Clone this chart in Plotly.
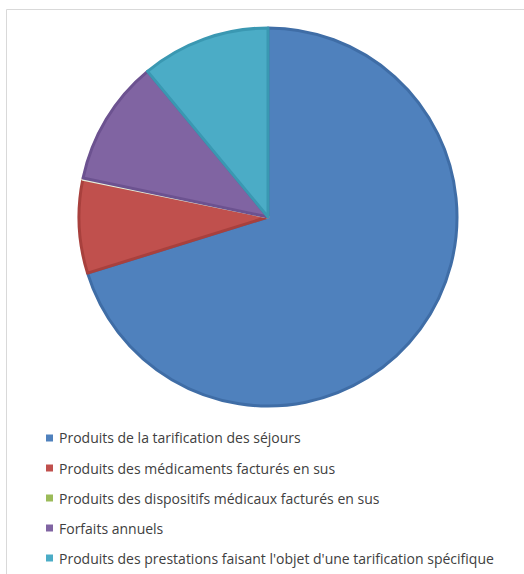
import plotly.graph_objects as go

labels = [
    "Produits de la tarification des séjours",
    "Produits des médicaments facturés en sus",
    "Produits des dispositifs médicaux facturés en sus",
    "Forfaits annuels",
    "Produits des prestations faisant l'objet d'une tarification spécifique",
]
values = [70.2, 8.0, 0.1, 10.7, 11.0]
colors = ["#4F81BD", "#C0504D", "#9BBB59", "#8064A2", "#4BACC6"]
line_colors = ["#3F6DA6", "#A8403D", "#E8F0DC", "#6C5290", "#3A98B2"]

W, H = 524, 574

fig = go.Figure()
fig.add_trace(go.Pie(
    labels=labels,
    values=values,
    sort=False,
    direction="clockwise",
    rotation=0,
    textinfo="none",
    hoverinfo="label+percent",
    showlegend=False,
    marker=dict(colors=colors, line=dict(color=line_colors, width=3)),
    domain=dict(x=[(268 - 189) / W, (268 + 189) / W],
                y=[(H - 217 - 189) / H, (H - 217 + 189) / H]),
))

shapes = [dict(type="rect", xref="paper", yref="paper",
               x0=6.5 / W, x1=1.05, y0=-0.05, y1=1 - 9.5 / H,
               line=dict(color="#D9D9D9", width=1), fillcolor="rgba(0,0,0,0)", layer="below")]
annotations = []
for i, (lab, col) in enumerate(zip(labels, colors)):
    yc = 438 + 30 * i
    shapes.append(dict(type="rect", xref="paper", yref="paper",
                       x0=46 / W, x1=53 / W, y0=1 - (yc + 3.5) / H, y1=1 - (yc - 3.5) / H,
                       line=dict(width=0), fillcolor=col))
    annotations.append(dict(text=lab, xref="paper", yref="paper",
                            x=57 / W, y=1 - yc / H, xanchor="left", yanchor="middle",
                            showarrow=False,
                            font=dict(family="Open Sans", size=14, color="#404040")))

fig.update_layout(
    width=W, height=H,
    margin=dict(l=0, r=0, t=0, b=0),
    paper_bgcolor="white",
    plot_bgcolor="white",
    shapes=shapes,
    annotations=annotations,
)

fig.write_html("out.html")
